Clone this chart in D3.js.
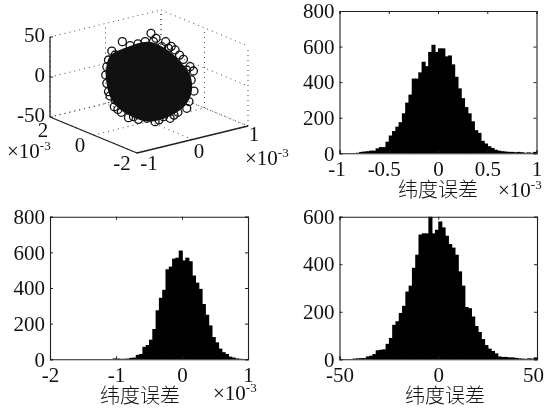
<!DOCTYPE html>
<html>
<head>
<meta charset="utf-8">
<script src="https://cdn.jsdelivr.net/npm/d3@7"></script>
<style>
  html, body { margin: 0; padding: 0; background: #fff; }
  svg { display: block; filter: blur(0.4px); }
  text { font-family: "Liberation Serif", serif; font-size: 21px; fill: #111; }
  text.cjk { font-family: "Noto Sans CJK SC", sans-serif; font-size: 20px; font-weight: 300; }
</style>
</head>
<body>
<div id="chart"></div>
<script>
const svgWidth = 546
const svgHeight = 411

// histogram counts, 60 bins each
const latCounts = [0, 0, 0, 0, 1, 3, 8, 10, 12, 15, 15, 28, 35, 35, 65, 100, 125, 150, 175, 225, 285, 330, 420, 420, 455, 515, 490, 570, 610, 570, 590, 590, 545, 550, 500, 430, 365, 310, 260, 225, 180, 130, 115, 70, 55, 40, 30, 20, 15, 12, 10, 8, 8, 6, 8, 6, 3, 5, 3, 8]
const lonCounts = [0, 0, 0, 0, 0, 0, 0, 0, 0, 0, 0, 0, 0, 0, 0, 0, 0, 0, 0, 5, 4, 3, 3, 4, 8, 10, 25, 30, 70, 80, 110, 170, 275, 345, 390, 505, 520, 565, 570, 610, 555, 570, 550, 470, 430, 395, 310, 250, 190, 125, 95, 60, 40, 30, 15, 10, 5, 3, 2, 1]
const altCounts = [1, 1, 1, 1, 3, 4, 5, 5, 12, 15, 22, 38, 40, 42, 65, 90, 145, 160, 195, 225, 285, 310, 385, 440, 525, 530, 530, 640, 530, 545, 580, 555, 520, 485, 470, 440, 370, 310, 220, 215, 180, 140, 115, 85, 60, 45, 35, 25, 12, 10, 10, 8, 8, 6, 4, 3, 2, 4, 3, 8]

// 3d scatter: open circles visible round the edge of the cloud (x in 1e-3, z)
const cloudX = [0.036, 0.126, 0.30, 0.47, 0.62, 0.74, 0.80, 0.76, 0.81, 0.68, 0.52, 0.38, 0.11, -0.19, -0.37, -0.50, -0.625, -0.73, -0.78, -0.73, -0.67, -0.48, -0.34, -0.07, 0.23, 0.35, 0.68, 0.65, 0.26, -0.04, -0.61, -0.76, -0.76, -0.61, 0.55, 0.72, 0.45, 0.18, -0.28, -0.56, -0.70, -0.20, 0.08, 0.40]
const cloudZ = [59.6, 51.9, 44.7, 31.5, 17.2, 6, -0.4, -10.9, -25.6, -45, -47.3, -52.4, -52.1, -44.1, -39, -30.1, -21, -0.4, 21.3, 39.2, 49.4, 57.9, 50.5, 51, 39.6, 35.6, 2.9, -30, -48.4, -45.3, -12.8, 10.5, 31.3, 43.4, 23.7, -37.2, -49.6, -51, -39.3, -25.5, -6.2, 50.4, 48.6, 37.2]

// outline of the solid black middle of the cloud
const coreX = [-0.70, -0.385, -0.01, 0.30, 0.55, 0.74, 0.77, 0.645, 0.365, -0.01, -0.385, -0.665, -0.77, -0.77]
const coreZ = [44, 49.7, 49.8, 35.9, 16.5, -4.1, -26.2, -41.5, -49.8, -49.8, -34.9, -12.8, 12.8, 30.2]

const ticksX3d = [-1, 0, 1]
const ticksY3d = [-2, 0, 2]
const ticksZ3d = [-50, 0, 50]
const ticksLat = [-1, -0.5, 0, 0.5, 1]
const ticksLon = [-2, -1, 0, 1]
const ticksAlt = [-50, 0, 50]
const ticksCount800 = [0, 200, 400, 600, 800]
const ticksCount600 = [0, 200, 400, 600]
const xLabel = "纬度误差"

let svg = d3
  .select("#chart")
  .append("svg")
  .attr("width", svgWidth)
  .attr("height", svgHeight)

svg.append("rect").attr("width", svgWidth).attr("height", svgHeight).attr("fill", "#fff")

/**
 * Draws a boxed histogram with inward ticks, MATLAB style.
 * Returns the x tick labels so single ones can be nudged.
 **/
function drawHist(id, box, counts, xDomain, yMax, xTicks, yTicks) {
  let x = d3.scaleLinear().domain(xDomain).range([box.left, box.right])
  let y = d3.scaleLinear().domain([0, yMax]).range([box.bottom, box.top])
  let binWidth = (xDomain[1] - xDomain[0]) / counts.length

  svg.append("clipPath").attr("id", id)
    .append("rect")
    .attr("x", box.left)
    .attr("y", box.top)
    .attr("width", box.right - box.left)
    .attr("height", box.bottom - box.top)

  svg.append("g")
    .attr("clip-path", `url(#${id})`)
    .selectAll("rect")
    .data(counts)
    .enter()
    .append("rect")
    .attr("x", (d, i) => x(xDomain[0] + i * binWidth))
    .attr("width", x(xDomain[0] + binWidth) - x(xDomain[0]) + 0.8)
    .attr("y", d => y(d))
    .attr("height", d => y(0) - y(d))
    .attr("fill", "#000")

  let bottomAxis = d3.axisBottom(x).tickValues(xTicks).tickFormat(d => d).tickSize(-3).tickPadding(8)
  let topAxis = d3.axisTop(x).tickValues(xTicks).tickFormat("").tickSize(-3)
  let leftAxis = d3.axisLeft(y).tickValues(yTicks).tickFormat(d => d).tickSize(-3).tickPadding(5)
  let rightAxis = d3.axisRight(y).tickValues(yTicks).tickFormat("").tickSize(-3)

  let axes = [
    [bottomAxis, 0, box.bottom],
    [topAxis, 0, box.top],
    [leftAxis, box.left, 0],
    [rightAxis, box.right, 0]
  ]
  let groups = axes.map(a => {
    let g = svg.append("g")
      .attr("transform", `translate(${a[1]}, ${a[2]})`)
      .call(a[0])
    g.attr("font-size", null).attr("font-family", null)
    g.selectAll("path").attr("stroke", "#222").attr("stroke-width", 1.1)
    g.selectAll("line").attr("stroke", "#222")
    g.selectAll("text").attr("fill", null)
    return g
  })
  return groups[0].selectAll("text")
}

function addExponent(xPos, yPos) {
  let t = svg.append("text").attr("x", xPos).attr("y", yPos).text("×10")
  t.append("tspan").attr("dy", -8).style("font-size", "13px").text("-3")
}

function addXLabel(xPos, yPos) {
  svg.append("text").attr("class", "cjk").attr("x", xPos).attr("y", yPos).text(xLabel)
}

let latLabels = drawHist("clipLat", { left: 339.5, right: 536.5, top: 11, bottom: 153.3 }, latCounts, [-1, 1], 800, ticksLat, ticksCount800)
latLabels.attr("dx", d => (d === -0.5 ? -5 : d === -1 ? -3 : 0))
drawHist("clipLon", { left: 50, right: 248, top: 216.7, bottom: 359.3 }, lonCounts, [-2, 1], 800, ticksLon, ticksCount800)
let altLabels = drawHist("clipAlt", { left: 339.5, right: 537, top: 216.7, bottom: 359.3 }, altCounts, [-50, 50], 600, ticksAlt, ticksCount600)
altLabels.attr("dx", d => (d === 50 ? -4 : 0))

addXLabel(398, 197)
addExponent(498, 197)
addXLabel(100, 403)
addExponent(213, 400)
addXLabel(405, 403)

// 3d panel: each data axis is a scale along one direction of the page
let x3dH = d3.scaleLinear().domain([-1, 1]).range([0, 111])
let x3dV = d3.scaleLinear().domain([-1, 1]).range([0, -27])
let y3dH = d3.scaleLinear().domain([-2, 2]).range([0, -87])
let y3dV = d3.scaleLinear().domain([-2, 2]).range([0, -36])
let z3dV = d3.scaleLinear().domain([-50, 50]).range([0, -80])
const front = [137, 153]

function project(px, py, pz) {
  return [
    front[0] + x3dH(px) + y3dH(py),
    front[1] + x3dV(px) + y3dV(py) + z3dV(pz)
  ]
}

let grid3d = svg.append("g")
  .attr("fill", "none")
  .attr("stroke", "#444")
  .attr("stroke-width", 1)
  .attr("stroke-dasharray", "1,4")

function gridLine(a, b) {
  let p = project(a[0], a[1], a[2])
  let q = project(b[0], b[1], b[2])
  grid3d.append("line").attr("x1", p[0]).attr("y1", p[1]).attr("x2", q[0]).attr("y2", q[1])
}

ticksX3d.forEach(t => {
  gridLine([t, 2, -50], [t, 2, 50])
  gridLine([t, -2, -50], [t, 2, -50])
})
ticksY3d.forEach(t => {
  gridLine([1, t, -50], [1, t, 50])
  gridLine([-1, t, -50], [1, t, -50])
})
ticksZ3d.forEach(t => {
  gridLine([-1, 2, t], [1, 2, t])
  gridLine([1, 2, t], [1, -2, t])
})

// solid axis lines
let axisLines = [
  [[-1, 2, -50], [-1, 2, 50]],
  [[-1, 2, -50], [-1, -2, -50]],
  [[-1, -2, -50], [1, -2, -50]]
]
axisLines.forEach(l => {
  let p = project(l[0][0], l[0][1], l[0][2])
  let q = project(l[1][0], l[1][1], l[1][2])
  svg.append("line")
    .attr("x1", p[0]).attr("y1", p[1]).attr("x2", q[0]).attr("y2", q[1])
    .attr("stroke", "#222").attr("stroke-width", 1.3)
})
ticksZ3d.forEach(t => {
  let p = project(-1, 2, t)
  svg.append("line")
    .attr("x1", p[0]).attr("y1", p[1]).attr("x2", p[0] + 3).attr("y2", p[1])
    .attr("stroke", "#222")
})

// the cloud
let coreLine = d3.line()
  .x(d => project(d[0], 0, d[1])[0])
  .y(d => project(d[0], 0, d[1])[1])
  .curve(d3.curveCatmullRomClosed)

svg.append("path")
  .attr("d", coreLine(coreX.map((d, i) => [d, coreZ[i]])))
  .attr("fill", "#111")

svg.append("g")
  .selectAll("circle")
  .data(cloudX)
  .enter()
  .append("circle")
  .attr("cx", (d, i) => project(d, 0, cloudZ[i])[0])
  .attr("cy", (d, i) => project(d, 0, cloudZ[i])[1])
  .attr("r", 4)
  .attr("fill", "none")
  .attr("stroke", "#111")
  .attr("stroke-width", 1.3)

// 3d tick labels
function label3d(txt, xPos, yPos, anchor) {
  svg.append("text")
    .attr("x", xPos)
    .attr("y", yPos)
    .attr("text-anchor", anchor)
    .text(txt)
}

ticksZ3d.forEach(t => {
  let p = project(-1, 2, t)
  label3d(t, p[0] - 5, p[1] + 5, "end")
})
label3d(ticksY3d[2], 43, 137, "middle")
label3d(ticksY3d[1], 80, 152, "middle")
label3d(ticksY3d[0], 122, 170, "middle")
label3d(ticksX3d[0], 149, 170, "middle")
label3d(ticksX3d[1], 199, 158, "middle")
label3d(ticksX3d[2], 254, 141, "middle")
addExponent(7, 158)
addExponent(245, 165)
</script>
</body>
</html>
